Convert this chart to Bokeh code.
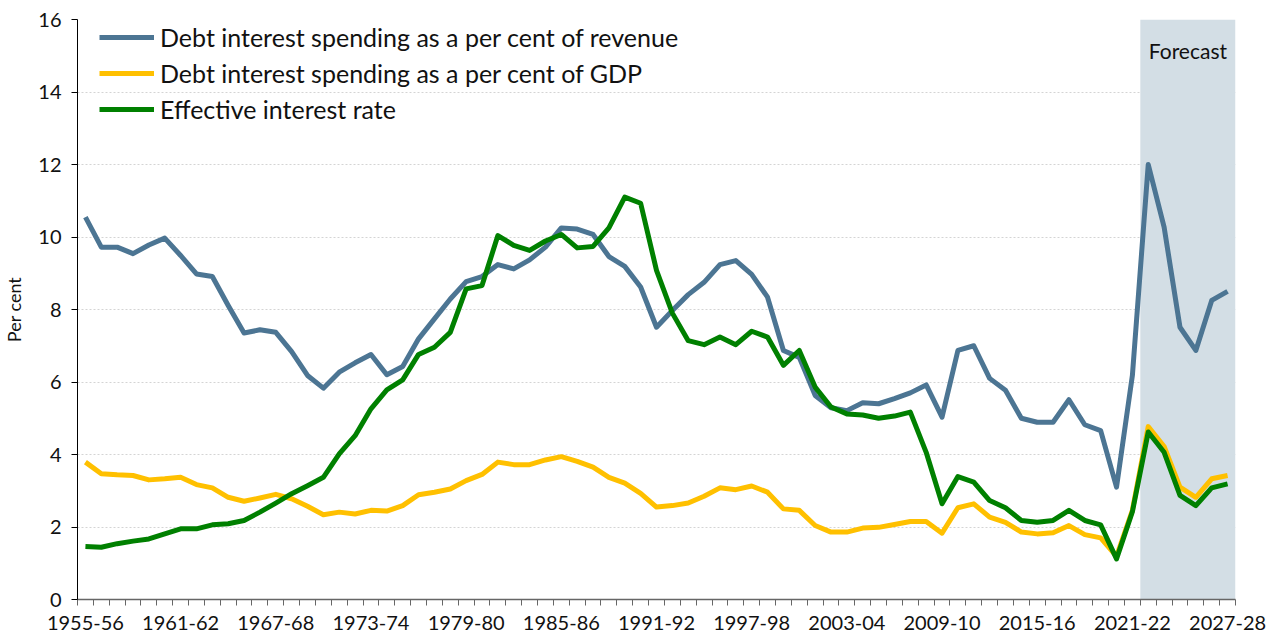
from bokeh.plotting import figure
from bokeh.models import (ColumnDataSource, FixedTicker, BoxAnnotation, Label,
                          Legend, LegendItem, Range1d)
from bokeh.embed import file_html
from bokeh.resources import INLINE

# ---------------- data ----------------
years = [f"{y}-{str(y + 1)[-2:]}" for y in range(1955, 2028)]

revenue = [10.55, 9.72, 9.72, 9.54, 9.78, 9.97, 9.49, 8.98, 8.91, 8.11,
           7.35, 7.44, 7.37, 6.84, 6.18, 5.83, 6.27, 6.53, 6.76, 6.20,
           6.43, 7.19, 7.74, 8.29, 8.77, 8.91, 9.24, 9.12, 9.37, 9.72,
           10.25, 10.22, 10.07, 9.46, 9.19, 8.62, 7.51, 7.97, 8.41, 8.75,
           9.24, 9.35, 8.97, 8.34, 6.87, 6.68, 5.63, 5.29, 5.21, 5.43,
           5.40, 5.54, 5.70, 5.92, 5.03, 6.87, 7.00, 6.10, 5.77, 5.00,
           4.89, 4.89, 5.51, 4.82, 4.66, 3.10, 6.18, 12.00, 10.27, 7.51,
           6.87, 8.25, 8.50]

gdp = [3.79, 3.47, 3.44, 3.42, 3.30, 3.33, 3.37, 3.17, 3.08, 2.82,
       2.71, 2.80, 2.90, 2.78, 2.57, 2.34, 2.41, 2.36, 2.46, 2.44,
       2.59, 2.89, 2.96, 3.05, 3.28, 3.45, 3.79, 3.72, 3.72, 3.85,
       3.94, 3.81, 3.65, 3.37, 3.21, 2.93, 2.55, 2.59, 2.66, 2.85,
       3.08, 3.03, 3.13, 2.96, 2.50, 2.46, 2.04, 1.86, 1.86, 1.97,
       1.99, 2.07, 2.15, 2.15, 1.83, 2.53, 2.64, 2.27, 2.13, 1.86,
       1.81, 1.84, 2.04, 1.79, 1.70, 1.19, 2.46, 4.77, 4.22, 3.10,
       2.82, 3.33, 3.42]

effective = [1.46, 1.44, 1.54, 1.61, 1.67, 1.81, 1.95, 1.95, 2.06, 2.09,
             2.18, 2.41, 2.66, 2.92, 3.14, 3.37, 4.02, 4.52, 5.26, 5.78,
             6.06, 6.76, 6.96, 7.37, 8.57, 8.66, 10.04, 9.77, 9.63, 9.89,
             10.07, 9.70, 9.74, 10.25, 11.10, 10.93, 9.08, 7.90, 7.14, 7.03,
             7.24, 7.03, 7.40, 7.24, 6.46, 6.87, 5.86, 5.31, 5.12, 5.09,
             5.00, 5.06, 5.17, 4.06, 2.64, 3.39, 3.24, 2.73, 2.53, 2.18,
             2.13, 2.18, 2.46, 2.18, 2.06, 1.12, 2.42, 4.62, 4.06, 2.87,
             2.59, 3.08, 3.19]

forecast_start = "2022-23"
labelled_years = years[::6]
y_ticks = list(range(0, 17, 2))

series_names = ["Debt interest spending as a per cent of revenue",
                "Debt interest spending as a per cent of GDP",
                "Effective interest rate"]

# ---------------- styling ----------------
FONT = "Lato"
BLUE = "#4C7593"
YELLOW = "#FFC000"
GREEN = "#008000"
BAND = "#D3DEE5"

idx = list(range(len(years)))
src = ColumnDataSource(dict(x=idx, revenue=revenue, gdp=gdp, effective=effective))

p = figure(width=1272, height=636, output_backend="svg", toolbar_location=None,
           x_range=Range1d(-0.5, len(years) - 0.5), y_range=Range1d(0, 16),
           min_border_left=77, min_border_right=37, min_border_top=19,
           min_border_bottom=37)
p.outline_line_color = None
p.background_fill_color = "white"

fs = years.index(forecast_start)
p.add_layout(BoxAnnotation(left=fs - 0.5, right=len(years) - 0.5,
                           fill_color=BAND, fill_alpha=1.0, line_alpha=0,
                           level="underlay"))
p.add_layout(Label(x=(fs - 0.5 + len(years) - 0.5) / 2, y=15.15, text="Forecast",
                   text_align="center", text_baseline="middle",
                   text_font=FONT, text_font_size="21px", text_color="#111111"))

r1 = p.line("x", "revenue", source=src, line_color=BLUE, line_width=5, line_join="round")
r2 = p.line("x", "gdp", source=src, line_color=YELLOW, line_width=5, line_join="round")
r3 = p.line("x", "effective", source=src, line_color=GREEN, line_width=5, line_join="round")

# x axis
lab_pos = [years.index(y) for y in labelled_years]
p.xaxis.ticker = FixedTicker(ticks=lab_pos,
                             minor_ticks=[i - 0.5 for i in range(len(years) + 1)])
p.xaxis.major_label_overrides = {i: years[i] for i in lab_pos}
p.xaxis.major_tick_out = 0
p.xaxis.major_tick_in = 0
p.xaxis.minor_tick_out = 6
p.xaxis.minor_tick_in = 0
p.xaxis.minor_tick_line_color = "#666666"
p.xaxis.axis_line_color = "#666666"
p.xaxis.axis_line_width = 1.5
p.xaxis.major_label_text_font = FONT
p.xaxis.major_label_text_font_size = "20px"
p.xaxis.major_label_text_color = "#111111"
p.xaxis.major_label_standoff = 10

# y axis
p.yaxis.ticker = FixedTicker(ticks=y_ticks)
p.yaxis.minor_tick_line_color = None
p.yaxis.major_tick_out = 6
p.yaxis.major_tick_in = 0
p.yaxis.axis_line_color = "black"
p.yaxis.major_tick_line_color = "black"
p.yaxis.major_label_text_font = FONT
p.yaxis.major_label_text_font_size = "20px"
p.yaxis.major_label_text_color = "#111111"
p.yaxis.major_label_standoff = 10
p.yaxis.axis_label = "Per cent"
p.yaxis.axis_label_text_font = FONT
p.yaxis.axis_label_text_font_size = "18px"
p.yaxis.axis_label_text_font_style = "normal"
p.yaxis.axis_label_text_color = "#111111"
p.yaxis.axis_label_standoff = 10

p.xgrid.grid_line_color = None
p.ygrid.grid_line_color = "#d4d4d4"
p.ygrid.grid_line_dash = "2 2"
p.ygrid.grid_line_width = 1

legend = Legend(items=[LegendItem(label=series_names[0], renderers=[r1]),
                       LegendItem(label=series_names[1], renderers=[r2]),
                       LegendItem(label=series_names[2], renderers=[r3])],
                location=(22, 475), border_line_alpha=0, background_fill_alpha=0,
                label_text_font=FONT, label_text_font_size="25px",
                label_text_color="#111111", glyph_width=55, glyph_height=30,
                label_height=30, spacing=6, padding=0, margin=0,
                label_standoff=6)
p.add_layout(legend)

open("out.html", "w").write(file_html(p, INLINE))
